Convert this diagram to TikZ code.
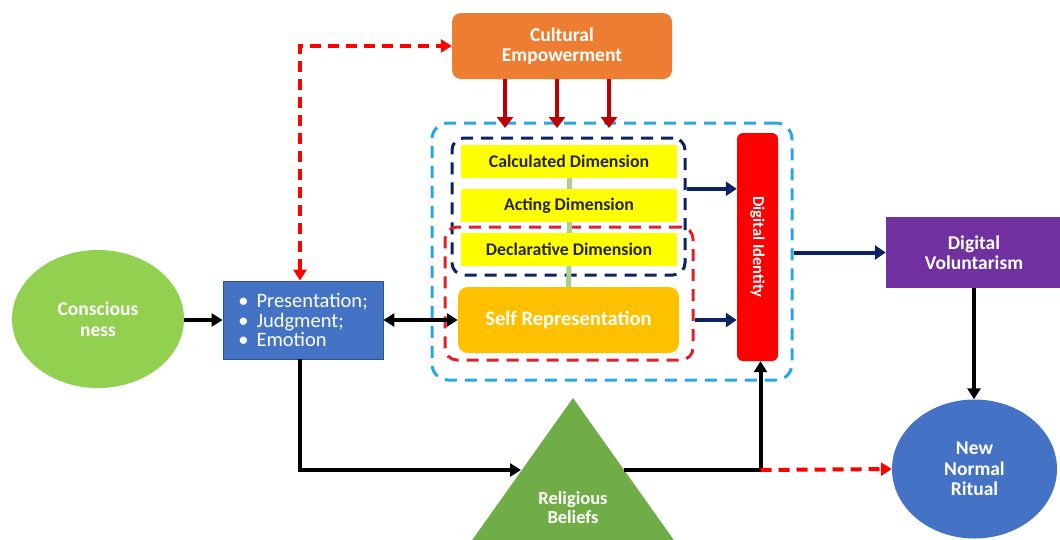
\documentclass[tikz,border=0pt]{standalone}
\usepackage{fontspec}
\setmainfont{Carlito}
\usetikzlibrary{arrows.meta,shapes.geometric,calc}
\definecolor{cgreen}{HTML}{92D050}
\definecolor{cblue}{HTML}{4472C4}
\definecolor{cblueb}{HTML}{2F528F}
\definecolor{corange}{HTML}{ED7D31}
\definecolor{cyel}{HTML}{FFFF00}
\definecolor{cgold}{HTML}{FFC000}
\definecolor{cred}{HTML}{FF0000}
\definecolor{cdred}{HTML}{C00000}
\definecolor{cpurple}{HTML}{7030A0}
\definecolor{cnavy}{HTML}{0B2361}
\definecolor{ccyan}{HTML}{29A8E0}
\definecolor{cdash}{HTML}{E0202A}
\definecolor{ctri}{HTML}{70AD47}
\definecolor{cline}{HTML}{A9D18E}
\begin{document}
\begin{tikzpicture}[x=1pt,y=-1pt,
  lbl/.style={inner sep=0pt,align=center,font=\fontsize{19.5}{20.5}\selectfont\bfseries,text=white},
  dimbox/.style={rectangle,fill=cyel,minimum width=216pt,minimum height=33pt,inner sep=0pt,
     font=\fontsize{17.8}{20}\selectfont\bfseries,text=black!85},
  dashbox/.style={rectangle,rounded corners=12pt,line width=3pt,dash pattern=on 12pt off 8pt,inner sep=0pt},
  blk/.style={line width=4pt,black,-{Triangle[length=11pt,width=13pt]}},
  navyar/.style={line width=4pt,cnavy,-{Triangle[length=11pt,width=14pt]}},
  redar/.style={line width=4pt,cred,dash pattern=on 11pt off 7pt,-{Triangle[length=11pt,width=13pt]}},
  drar/.style={line width=4.5pt,cdred,-{Triangle[length=11pt,width=16pt]}}
]
\clip (0,0) rectangle (1060,539);
\fill[white] (0,0) rectangle (1060,539);

% dashed grouping boxes
\node[dashbox,draw=ccyan,rounded corners=16pt,minimum width=360pt,minimum height=257pt] (cyanbox) at (612,251.5) {};
\node[dashbox,draw=cnavy,minimum width=233pt,minimum height=137pt] (navybox) at (568.5,206.5) {};
\node[dashbox,draw=cdash,minimum width=248pt,minimum height=133pt] (redbox) at (569,293.5) {};

% nodes
\node[ellipse,fill=cgreen,minimum width=172pt,minimum height=138pt,lbl] (cons) at (98,319) {Conscious\\ness};
\node[rectangle,fill=cblue,draw=cblueb,line width=0.8pt,minimum width=160pt,minimum height=78pt,inner sep=0pt,
      align=left,text=white,font=\fontsize{20.5}{19.5}\selectfont] (pje) at (303,320)
      {\textbullet\ \,Presentation;\\\textbullet\ \,Judgment;\\\textbullet\ \,Emotion};
\node[rectangle,rounded corners=9pt,fill=corange,minimum width=220pt,minimum height=66pt,lbl] (cult) at (562,46) {Cultural\\Empowerment};
\node[dimbox] (calc) at (569,161.5) {Calculated Dimension};
\node[dimbox] (act) at (569,205.5) {Acting Dimension};
\node[dimbox] (decl) at (569,249.5) {Declarative Dimension};
\node[rectangle,rounded corners=10pt,fill=cgold,minimum width=221pt,minimum height=66pt,lbl,font=\fontsize{20.5}{22}\selectfont\bfseries] (self) at (568.5,320) {Self Representation};
\node[rectangle,rounded corners=6pt,fill=cred,minimum width=41pt,minimum height=228pt,inner sep=0pt] (did) at (757.5,247) {};
\node[lbl,rotate=-90,font=\fontsize{16.5}{18}\selectfont\bfseries] (didt) at (did.center) {Digital Identity};
\node[rectangle,fill=cpurple,minimum width=176pt,minimum height=71pt,lbl] (dv) at (974,252.5) {Digital\\Voluntarism};
\node[ellipse,fill=cblue,minimum width=165pt,minimum height=139pt,lbl] (nnr) at (974.5,469) {New\\Normal\\Ritual};

% religious beliefs triangle
\fill[ctri] (573,398) -- (458,560) -- (688,560) -- cycle;
\node[lbl,font=\fontsize{18.5}{19.5}\selectfont\bfseries] (rel) at (573,507.5) {Religious\\Beliefs};
\coordinate (relL) at (521,470);
\coordinate (relR) at (624,470);

% green spine
\draw[cline,line width=5pt] (calc.south) -- (act.north);
\draw[cline,line width=5pt] (act.south) -- (decl.north);
\draw[cline,line width=5pt] (decl.south) -- (self.north);

% connectors
\draw[blk] (cons.east |- pje.west) -- (pje.west);
\draw[line width=3.5pt,black,{Triangle[length=11pt,width=13pt]}-{Triangle[length=11pt,width=13pt]}] (pje.east) -- (self.west);
\draw[redar,{Triangle[length=11pt,width=13pt]}-{Triangle[length=11pt,width=13pt]}] ([xshift=-3pt]pje.north) |- (cult.west);

\coordinate (t1) at (505,128);
\coordinate (t2) at (557,128);
\coordinate (t3) at (609,128);
\draw[drar] (cult.south -| t1) -- (t1);
\draw[drar] (cult.south -| t2) -- (t2);
\draw[drar] (cult.south -| t3) -- (t3);

\draw[navyar] (navybox.east |- act.north) -- (did.west |- act.north);
\draw[navyar] (redbox.east |- self.west) -- (did.west |- self.west);
\draw[navyar] (cyanbox.east |- dv.west) -- (dv.west);

\draw[blk] (dv.south) -- (dv.south |- nnr.north);
\draw[blk] ([xshift=-3pt]pje.south) |- (relL);
\coordinate (jn) at ([xshift=3pt]did.south |- relR);
\draw[blk] (relR) -- (jn) -- ([xshift=3pt]did.south);
\draw[redar] (jn) -- (nnr.west);
\end{tikzpicture}
\end{document}
